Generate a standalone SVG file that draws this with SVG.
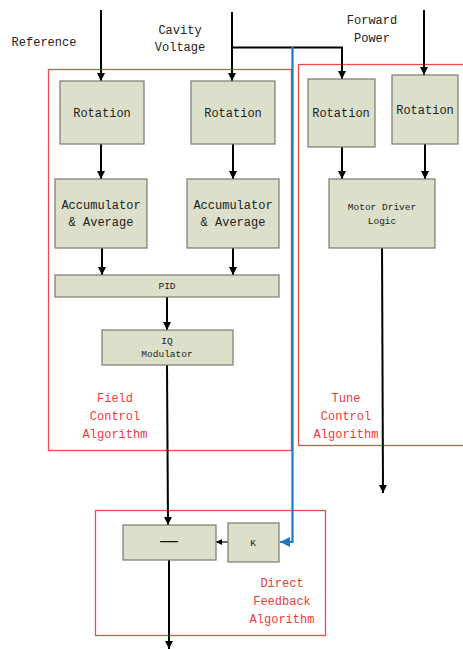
<svg xmlns="http://www.w3.org/2000/svg" width="463" height="649" viewBox="0 0 463 649">
<style>
.box{fill:#dcdfca;stroke:#7a7a70;stroke-width:1.2}
.reg{fill:none;stroke:#ee4a4a;stroke-width:1.3}
.t{font-family:"Liberation Mono",monospace;fill:#222;text-anchor:middle}
.s{font-size:12px}
.m{font-size:9.5px}
.r{font-family:"Liberation Mono",monospace;fill:#ee3a3a;text-anchor:middle;font-size:12px}
.w{stroke:#000;stroke-width:2;fill:none}
.b{stroke:#1f78c4;stroke-width:2.2;fill:none}
</style>
<defs>
<marker id="ah" markerWidth="8" markerHeight="8" refX="8" refY="4" orient="auto" markerUnits="userSpaceOnUse"><path d="M0,0 L8,4 L0,8 Z" fill="#000"/></marker>
<marker id="ahs" markerWidth="6" markerHeight="6" refX="6" refY="3" orient="auto" markerUnits="userSpaceOnUse"><path d="M0,0 L6,3 L0,6 Z" fill="#000"/></marker>
<marker id="ahb" markerWidth="10" markerHeight="10" refX="10" refY="5" orient="auto" markerUnits="userSpaceOnUse"><path d="M0,0 L10,5 L0,10 Z" fill="#1f78c4"/></marker>
</defs>
<text class="t s" x="44" y="46">Reference</text>
<text class="t s" x="180" y="34">Cavity</text>
<text class="t s" x="180" y="51">Voltage</text>
<text class="t s" x="372" y="24">Forward</text>
<text class="t s" x="372" y="42">Power</text>
<g id="regions">
<rect id="field" class="reg" x="48.5" y="69.5" width="243" height="381"/>
<rect id="tune" class="reg" x="298.5" y="64.5" width="170" height="381"/>
<rect id="direct" class="reg" x="95.5" y="510.5" width="230" height="125"/>
<text class="r" x="115" y="402">Field</text>
<text class="r" x="115" y="420">Control</text>
<text class="r" x="115" y="438">Algorithm</text>
<text class="r" x="346" y="402">Tune</text>
<text class="r" x="346" y="420">Control</text>
<text class="r" x="346" y="438">Algorithm</text>
<text class="r" x="282" y="587">Direct</text>
<text class="r" x="282" y="605">Feedback</text>
<text class="r" x="282" y="623">Algorithm</text>
</g>
<g id="connectors">
<line class="w" x1="101" y1="10" x2="101" y2="81" marker-end="url(#ah)"/>
<line class="w" x1="232" y1="12" x2="232" y2="81" marker-end="url(#ah)"/>
<polyline class="w" points="232,47.5 342,47.5 342,79" marker-end="url(#ah)"/>
<line class="w" x1="424" y1="10" x2="424" y2="75" marker-end="url(#ah)"/>
<line class="w" x1="101" y1="144" x2="101" y2="179" marker-end="url(#ah)"/>
<line class="w" x1="233" y1="144" x2="233" y2="179" marker-end="url(#ah)"/>
<line class="w" x1="342" y1="147" x2="342" y2="179" marker-end="url(#ah)"/>
<line class="w" x1="425" y1="144" x2="425" y2="179" marker-end="url(#ah)"/>
<line class="w" x1="102" y1="248" x2="102" y2="275" marker-end="url(#ah)"/>
<line class="w" x1="233" y1="248" x2="233" y2="275" marker-end="url(#ah)"/>
<line class="w" x1="167" y1="297" x2="167" y2="330" marker-end="url(#ah)"/>
<line class="w" x1="167" y1="365" x2="168" y2="525" marker-end="url(#ah)"/>
<line class="w" x1="382" y1="242" x2="383" y2="493" marker-end="url(#ah)"/>
<line x1="228" y1="542" x2="216" y2="542" stroke="#000" stroke-width="1.2" marker-end="url(#ahs)"/>
<line class="w" x1="169" y1="560" x2="169" y2="649" marker-end="url(#ah)"/>
<polyline class="b" points="292.5,47 292.5,542 280,542" marker-end="url(#ahb)"/>
</g>
<g id="rot1"><rect class="box" x="60" y="81" width="84" height="63"/><text class="t s" x="102" y="117">Rotation</text></g>
<g id="rot2"><rect class="box" x="191" y="81" width="84" height="63"/><text class="t s" x="233" y="117">Rotation</text></g>
<g id="rot3"><rect class="box" x="308" y="79" width="67" height="68"/><text class="t s" x="341" y="117">Rotation</text></g>
<g id="rot4"><rect class="box" x="392" y="75" width="66" height="69"/><text class="t s" x="425" y="114">Rotation</text></g>
<g id="acc1"><rect class="box" x="55" y="179" width="92" height="69"/><text class="t s" x="101" y="209">Accumulator</text><text class="t s" x="101" y="226">&amp; Average</text></g>
<g id="acc2"><rect class="box" x="187" y="179" width="92" height="69"/><text class="t s" x="233" y="209">Accumulator</text><text class="t s" x="233" y="226">&amp; Average</text></g>
<g id="motor"><rect class="box" x="329" y="179" width="106" height="69"/><text class="t m" x="382" y="210">Motor Driver</text><text class="t m" x="382" y="224">Logic</text></g>
<g id="pid"><rect class="box" x="55" y="275" width="224" height="22"/><text class="t m" x="167" y="289">PID</text></g>
<g id="iq"><rect class="box" x="102" y="330" width="131" height="35"/><text class="t m" x="167" y="344">IQ</text><text class="t m" x="167" y="357">Modulator</text></g>
<g id="minus"><rect class="box" x="123" y="525" width="93" height="35"/><text x="169" y="546" font-family="Liberation Sans,sans-serif" font-size="18" text-anchor="middle" fill="#111">—</text></g>
<g id="k"><rect class="box" x="228" y="523" width="51" height="39"/><text class="t m" x="253" y="546">K</text></g>
</svg>
